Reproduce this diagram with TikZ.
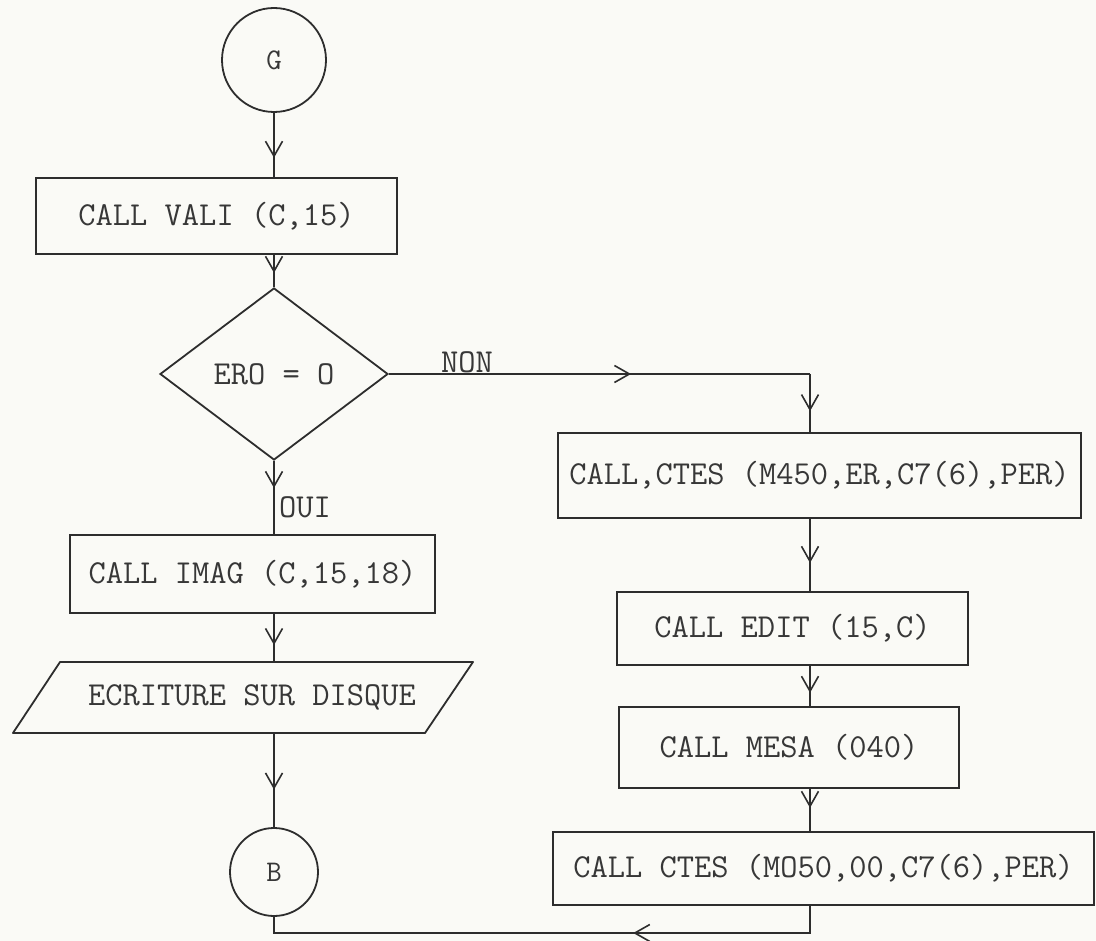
\documentclass[tikz,border=0pt]{standalone}
\usepackage{fontspec}
\usetikzlibrary{arrows.meta,shapes.geometric,decorations.markings}
\definecolor{paper}{RGB}{250,250,246}
\definecolor{ink}{RGB}{45,45,45}
\definecolor{txt}{RGB}{55,55,55}
\begin{document}
\begin{tikzpicture}[x=1pt,y=-1pt,
  lw/.style={line width=1.8pt, draw=ink},
  tt/.style={font=\ttfamily\fontsize{33.5}{40}\selectfont, text=txt},
  box/.style={lw, rectangle, inner sep=0pt, tt},
  conn/.style={circle, lw, inner sep=0pt, font=\ttfamily\fontsize{30}{36}\selectfont, text=txt},
  lbl/.style={tt, inner sep=0pt},
  flow/.style={lw, postaction=decorate,
    decoration={markings, mark=at position #1 with {\arrow[line width=1.6pt, ink]{Straight Barb[length=15pt,width=17pt]}}}},
]
\fill[paper] (0,0) rectangle (1096,941);
\useasboundingbox (0,0) rectangle (1096,941);

% left column
\node[conn, minimum size=104pt] (G) at (274,60) {G};
\node[box, minimum width=361pt, minimum height=76pt] (vali) at (216.5,216) {CALL VALI (C,15)};
\node[box, diamond, minimum width=228pt, minimum height=172pt] (d) at (274,374) {ERO = O};
\node[box, minimum width=365pt, minimum height=78pt] (imag) at (252.5,574) {CALL IMAG (C,15,18)};
\node[tt, inner sep=0pt, minimum width=330pt, minimum height=71pt] (disk) at (252,697.5) {ECRITURE SUR DISQUE};
\draw[lw, line join=round] (60,662) -- (473,662) -- (425,733) -- (13,733) -- cycle;
\node[conn, minimum size=88pt] (B) at (274,872) {B};

% right column
\node[box, minimum width=523pt, minimum height=85pt] (c1) at (819.5,475.5) {CALL,CTES (M450,ER,C7(6),PER)};
\node[box, minimum width=351pt, minimum height=73pt] (edit) at (792.5,628.5) {CALL EDIT (15,C)};
\node[box, minimum width=340pt, minimum height=81pt] (mesa) at (789,747.5) {CALL MESA (040)};
\node[box, minimum width=541pt, minimum height=73pt] (c2) at (823.5,868.5) {CALL CTES (MO50,00,C7(6),PER)};

% labels
\node[lbl, anchor=west] (oui) at (279,507) {OUI};
\node[lbl] (non) at (467,362) {NON};

% connectors left
\draw[flow=0.7] (G.south) -- (G.south |- vali.north);
\draw[flow=0.56] (G.south |- vali.south) -- (d.north);
\draw[flow=0.37] (d.south) -- (d.south |- imag.north);
\draw[flow=0.65] (d.south |- imag.south) -- (d.south |- disk.north);
\draw[flow=0.6] (d.south |- disk.south) -- (B.north);

% NON branch
\coordinate (nc) at (810,374);
\draw[flow=0.575] (d.east) -- (nc);
\draw[flow=0.64] (nc) -- (nc |- c1.north);
\draw[flow=0.61] (nc |- c1.south) -- (nc |- edit.north);
\draw[flow=0.67] (nc |- edit.south) -- (nc |- mesa.north);
\draw[flow=0.45] (nc |- mesa.south) -- (nc |- c2.north);

% return
\coordinate (r1) at (810,933);
\coordinate (r2) at (274,933);
\draw[flow=0.352] (nc |- c2.south) -- (r1) -- (r2) -- (B.south);
\end{tikzpicture}
\end{document}
